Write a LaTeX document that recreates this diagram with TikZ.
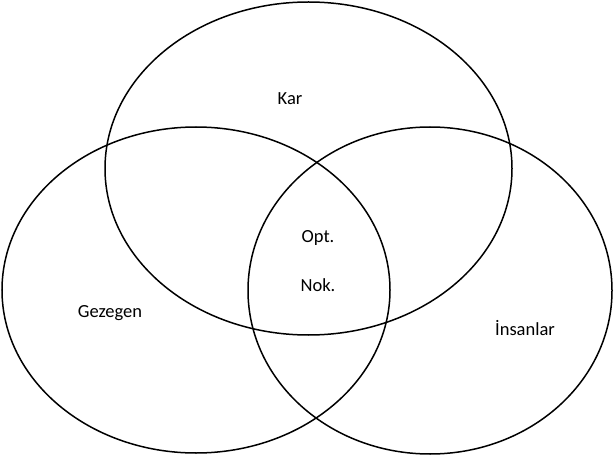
\documentclass[tikz,border=0pt]{standalone}
\usepackage{fontspec}
\setmainfont{Carlito}
\begin{document}
\begin{tikzpicture}[x=1pt,y=-1pt,
  setshape/.style={draw=black,line width=1.5pt},
  lbl/.style={font=\fontsize{18.5}{22}\selectfont,inner sep=0pt}]
\useasboundingbox (0,0) rectangle (613,457);
\draw[setshape] (308.5,168.5) ellipse [x radius=203.5, y radius=166.5];
\draw[setshape] (196,290) ellipse [x radius=194, y radius=163];
\draw[setshape] (430,290.5) ellipse [x radius=182, y radius=163.5];
\node[lbl] (kar) at (290,99) {Kar};
\node[lbl] (opt) at (318,238) {Opt.};
\node[lbl] (nok) at (318,285) {Nok.};
\node[lbl] (gez) at (110,313) {Gezegen};
\node[lbl] (ins) at (525,328) {İnsanlar};
\end{tikzpicture}
\end{document}
